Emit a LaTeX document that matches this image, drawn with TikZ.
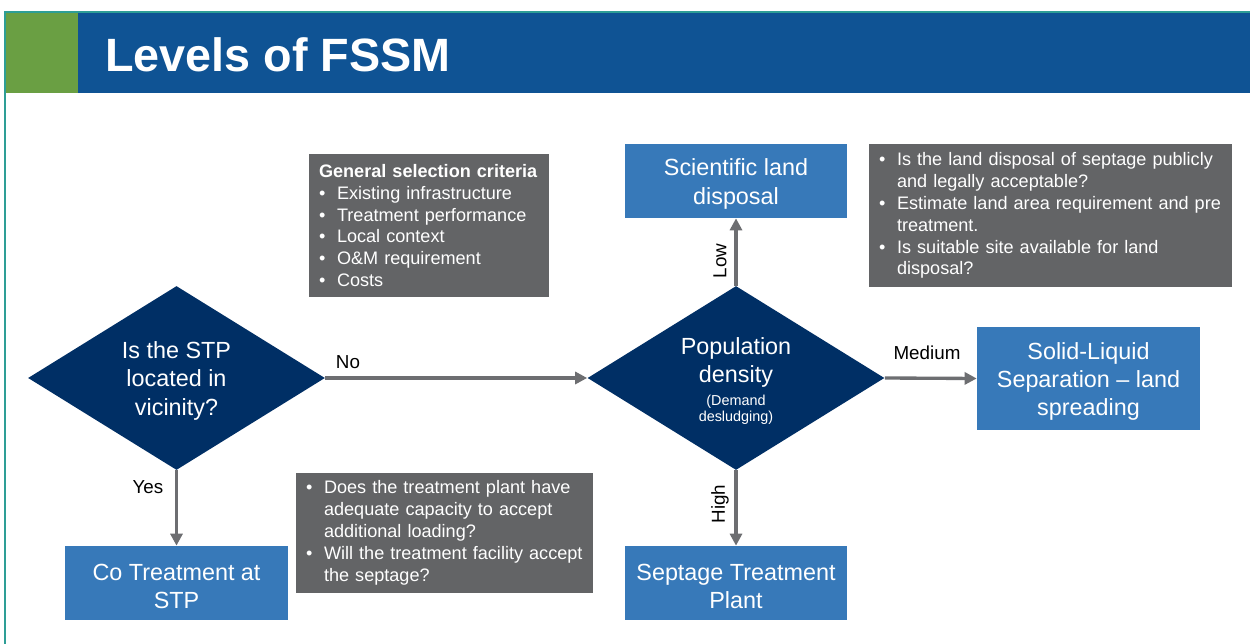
\documentclass[tikz,border=0pt]{standalone}
\usepackage{fontspec}
\setmainfont{Liberation Sans}
\usetikzlibrary{shapes.geometric,arrows.meta}
\definecolor{fsteal}{HTML}{2E9E96}
\definecolor{fsgreen}{HTML}{6A9F43}
\definecolor{fshdr}{HTML}{0F5394}
\definecolor{fsnavy}{HTML}{002F65}
\definecolor{fsbox}{HTML}{3779B9}
\definecolor{fsgray}{HTML}{636466}
\definecolor{fsarrow}{HTML}{6D6E71}
\newcommand\fsitem[1]{\mbox{\makebox[0.36cm][l]{\textbullet}#1}}
\newcommand\fscont[1]{\mbox{\hspace*{0.36cm}#1}}
\newcommand\fstop{\rule{0pt}{13pt}}
\begin{document}
\begin{tikzpicture}[x=0.02cm,y=-0.02cm,
  decision/.style={diamond, aspect=1.614, fill=fsnavy, text=white, minimum width=5.94cm, minimum height=3.68cm,
    inner sep=0pt, align=center, font=\fontsize{13.3}{16}\selectfont},
  outbox/.style={rectangle, fill=fsbox, text=white, minimum width=4.44cm, minimum height=1.48cm,
    inner sep=0pt, align=center, font=\fontsize{13.3}{16}\selectfont},
  notebox/.style={rectangle, fill=fsgray, text=white, inner xsep=0.2cm, inner ysep=0pt,
    align=left, font=\fontsize{10.3}{12.47}\selectfont},
  flow/.style={draw=fsarrow, line width=1.9pt, -{Triangle[length=0.24cm,width=0.24cm]}},
  lbl/.style={font=\fontsize{10.7}{12}\selectfont, text=black, inner sep=0pt}]
\useasboundingbox (0,0) rectangle (1250,644);
\fill[white] (0,0) rectangle (1250,644);
% header
\fill[fsgreen] (6,13) rectangle (78,93);
\fill[fshdr] (78,13) rectangle (1250,93);
\draw[fsteal, line width=0.8pt] (5,644) -- (5,12) -- (1250,12);
\node[anchor=base west, text=white, inner sep=0pt, font=\bfseries\fontsize{26.6}{32}\selectfont] (title) at (105,72) {Levels of FSSM};
% decisions
\node[decision] (d1) at (176.5,378) {\fstop Is the STP\\located in\\vicinity?};
\node[decision] (d2) at (736,378) {\fstop Population\\density\\[-2.9pt]{\fontsize{8.2}{9}\selectfont (Demand}\\[-6.8pt]{\fontsize{8.2}{9}\selectfont desludging)}};
% outcomes
\node[outbox] (sci) at (736,181) {\fstop Scientific land\\disposal};
\node[outbox] (sep) at (736,583) {\fstop Septage Treatment\\Plant};
\node[outbox, minimum width=4.46cm] (co) at (176.5,583) {\fstop Co Treatment at\\STP};
\node[outbox, minimum width=4.46cm, minimum height=2.06cm] (sol) at (1088.5,378.5) {\fstop Solid-Liquid\\Separation -- land\\spreading};
% notes
\node[notebox, text width=4.4cm, minimum height=2.86cm] (gen) at (429,225.5) {%
\mbox{\textbf{General selection criteria}}\\
\fsitem{Existing infrastructure}\\
\fsitem{Treatment performance}\\
\fsitem{Local context}\\
\fsitem{O\&M requirement}\\
\fsitem{Costs}};
\node[notebox, text width=6.86cm, minimum height=2.86cm] (land) at (1050.5,215.5) {%
\fsitem{Is the land disposal of septage publicly}\\
\fscont{and legally acceptable?}\\
\fsitem{Estimate land area requirement and pre}\\
\fscont{treatment.}\\
\fsitem{Is suitable site available for land}\\
\fscont{disposal?}};
\node[notebox, text width=5.54cm, minimum height=2.4cm] (cap) at (444.5,533) {%
\fsitem{Does the treatment plant have}\\
\fscont{adequate capacity to accept}\\
\fscont{additional loading?}\\
\fsitem{Will the treatment facility accept}\\
\fscont{the septage?}};
% connectors
\draw[flow] (d1.east) -- (d2.west);
\draw[flow] (d1.south) -- (co.north);
\draw[flow] (d2.north) -- (sci.south);
\draw[flow] (d2.south) -- (sep.north);
\draw[flow] (d2.east) -- (sol.west);
% labels
\node[lbl] (lno) at (348,362) {No};
\node[lbl] (lyes) at (148,487) {Yes};
\node[lbl] (lmed) at (927,353) {Medium};
\node[lbl, rotate=90] (llow) at (720,261) {Low};
\node[lbl, rotate=90] (lhigh) at (720,504) {High};
\end{tikzpicture}
\end{document}
